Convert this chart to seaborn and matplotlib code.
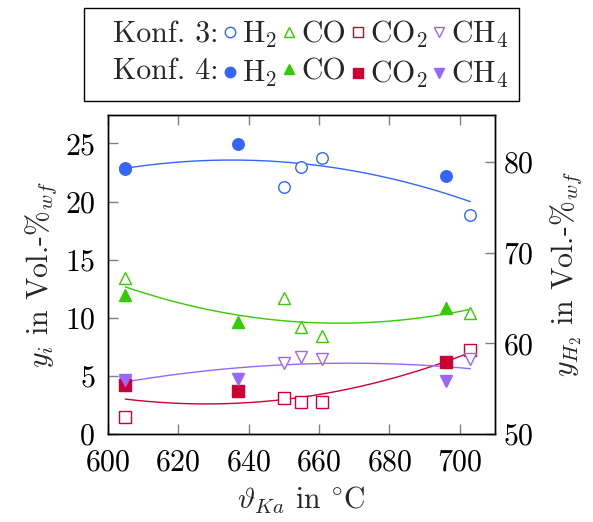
import numpy as np
import pandas as pd
import matplotlib
matplotlib.use("Agg")
import matplotlib.pyplot as plt
from matplotlib.lines import Line2D
import seaborn as sns

# Gas composition vs. carburettor temperature, two configurations
temp_k3 = [605, 650, 655, 661, 703]
h2_k3 = [79.2, 77.3, 79.5, 80.5, 74.15]
co_k3 = [13.4, 11.7, 9.2, 8.45, 10.45]
co2_k3 = [1.5, 3.07, 2.78, 2.78, 7.22]
ch4_k3 = [4.5, 6.13, 6.64, 6.47, 6.44]

temp_k4 = [605, 637, 696]
h2_k4 = [79.3, 82.05, 78.45]
co_k4 = [11.94, 9.6, 10.8]
co2_k4 = [4.21, 3.72, 6.21]
ch4_k4 = [4.64, 4.7, 4.58]

species = ["H2", "CO", "CO2", "CH4"]
labels = [r"H$_2$", "CO", r"CO$_2$", r"CH$_4$"]
colors = {"H2": "#3366FF", "CO": "#33CC00", "CO2": "#CC0033", "CH4": "#9966FF"}
markers = {"H2": "o", "CO": "^", "CO2": "s", "CH4": "v"}

rows = []
for name, v3, v4 in [("H2", h2_k3, h2_k4), ("CO", co_k3, co_k4),
                     ("CO2", co2_k3, co2_k4), ("CH4", ch4_k3, ch4_k4)]:
    rows += [dict(T=t, y=v, gas=name, konf=3) for t, v in zip(temp_k3, v3)]
    rows += [dict(T=t, y=v, gas=name, konf=4) for t, v in zip(temp_k4, v4)]
df = pd.DataFrame(rows)

FS = 21.5
sns.set_style("ticks")
plt.rcParams.update({
    "font.family": "serif",
    "font.serif": ["cmr10", "DejaVu Serif"],
    "mathtext.fontset": "cm",
    "axes.formatter.use_mathtext": True,
    "font.size": FS,
    "axes.linewidth": 1.0,
    "xtick.direction": "in",
    "ytick.direction": "in",
    "xtick.color": "#808080",
    "ytick.color": "#808080",
    "xtick.labelcolor": "black",
    "ytick.labelcolor": "black",
    "xtick.major.size": 7.5,
    "ytick.major.size": 7.5,
    "xtick.major.width": 1.0,
    "ytick.major.width": 1.0,
})

fig = plt.figure(figsize=(5.93, 5.22), dpi=100)
ax = fig.add_axes([0.1816, 0.1686, 0.6531, 0.6111])
ax2 = ax.twinx()

ms = 8.3
for gas in species:
    target = ax2 if gas == "H2" else ax
    sub = df[df.gas == gas]
    sns.regplot(data=sub, x="T", y="y", order=2, ci=None, scatter=False,
                truncate=True, ax=target,
                line_kws=dict(color=colors[gas], lw=1.0, zorder=2))
    d3 = sub[sub.konf == 3]
    d4 = sub[sub.konf == 4]
    target.plot(d3["T"], d3["y"], ls="none", marker=markers[gas], ms=ms,
                mfc="white", mec=colors[gas], mew=1.0, zorder=3)
    target.plot(d4["T"], d4["y"], ls="none", marker=markers[gas], ms=ms,
                mfc=colors[gas], mec=colors[gas], mew=1.0, zorder=4)

ax.set_xlim(600, 710)
ax.set_ylim(0, 27.45)
ax2.set_ylim(50, 85.2)
ax.set_xticks([600, 620, 640, 660, 680, 700])
ax.set_yticks([0, 5, 10, 15, 20, 25])
ax2.set_yticks([50, 60, 70, 80])
ax.tick_params(axis="x", top=True, pad=11)
ax.tick_params(axis="y", right=False, pad=9)
ax2.tick_params(axis="y", right=True, left=False, pad=6)
ax.set_xlabel(r"$\vartheta_{Ka}$ in $^{\circ}$C", labelpad=6)
ax.set_ylabel(r"$y_i$ in Vol.-$\%_{wf}$", labelpad=4)
ax2.set_ylabel(r"$y_{H_2}$ in Vol.-$\%_{wf}$", labelpad=10)
for a in (ax, ax2):
    for s in a.spines.values():
        s.set_visible(True)
        s.set_color("black")
    a.grid(False)

# Legend: row label column followed by one column per species
blank = Line2D([], [], ls="none", marker=None)
handles = [blank, blank]
leg_labels = ["Konf. 3:", "Konf. 4:"]
for gas, lab in zip(species, labels):
    handles.append(Line2D([], [], ls="none", marker=markers[gas], ms=7.5,
                          mfc="white", mec=colors[gas], mew=1.0))
    handles.append(Line2D([], [], ls="none", marker=markers[gas], ms=7.5,
                          mfc=colors[gas], mec=colors[gas], mew=1.0))
    leg_labels += [lab, lab]
fig.legend(handles, leg_labels, ncol=5, loc="center",
           bbox_to_anchor=(0.508, 0.8956), frameon=True, fancybox=False,
           edgecolor="black", framealpha=1, fontsize=FS,
           handlelength=0.45, handletextpad=0.17, columnspacing=0.18,
           labelspacing=0.3, borderpad=0.35)

fig.savefig("out.png", dpi=100)
